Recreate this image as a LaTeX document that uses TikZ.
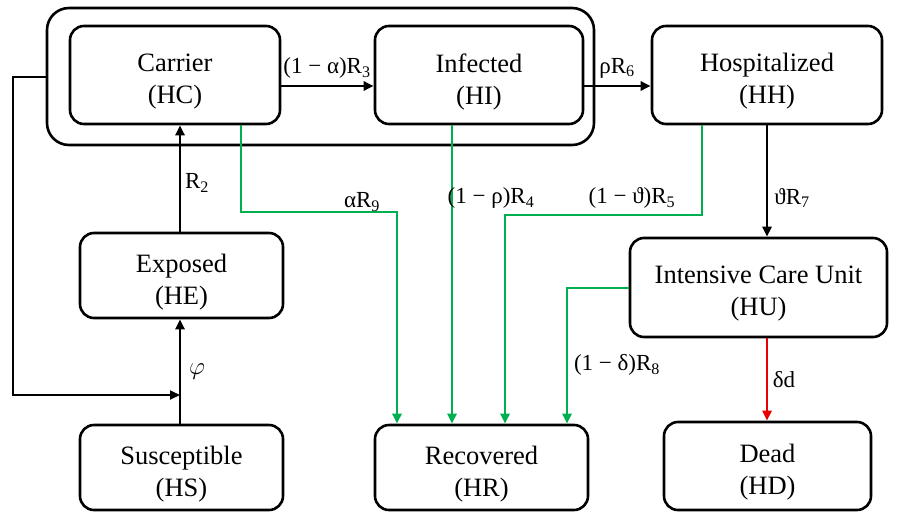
\documentclass[tikz,border=0pt]{standalone}
\usepackage{fontspec}
\setmainfont{Liberation Serif}
\usetikzlibrary{arrows.meta,calc}
\begin{document}
\begin{tikzpicture}[x=1pt,y=-1pt,
  box/.style={draw,line width=2.6pt,rounded corners=14pt,inner sep=0pt},
  txt/.style={align=center,font=\fontsize{26.5}{32}\selectfont,inner sep=0pt,yshift=-6.5pt},
  conn/.style={line width=2.5pt,-{Triangle[length=10pt,width=9pt]}},
  gconn/.style={conn,draw=gr,line width=2.7pt},
  lbl/.style={font=\fontsize{23}{26}\selectfont,inner sep=1pt}]
\definecolor{gr}{RGB}{0,176,80}
\definecolor{rd}{RGB}{230,0,0}
\useasboundingbox (0,0) rectangle (904,522);
% outer group
\node[draw,line width=2.6pt,rounded corners=22pt,minimum width=547pt,minimum height=137pt,inner sep=0pt] (grp) at (320.5,76.5) {};
\node[box,minimum width=210pt,minimum height=98pt,label={[txt]center:{Carrier\\(HC)}}] (HC) at (175,75) {};
\node[box,minimum width=208pt,minimum height=98pt,label={[txt]center:{Infected\\(HI)}}] (HI) at (479,75) {};
\node[box,minimum width=230pt,minimum height=98pt,label={[txt]center:{Hospitalized\\(HH)}}] (HH) at (767,75) {};
\node[box,minimum width=203pt,minimum height=85pt,label={[txt]center:{Exposed\\(HE)}}] (HE) at (181.5,275.5) {};
\node[box,minimum width=203pt,minimum height=85pt,label={[txt]center:{Susceptible\\(HS)}}] (HS) at (181.5,467.5) {};
\node[box,minimum width=213pt,minimum height=85pt,label={[txt]center:{Recovered\\(HR)}}] (HR) at (481.5,467.5) {};
\node[box,minimum width=257pt,minimum height=99pt,label={[txt]center:{Intensive Care Unit\\(HU)}}] (HU) at (758.5,287.5) {};
\node[box,minimum width=207pt,minimum height=88pt,label={[txt]center:{Dead\\(HD)}}] (HD) at (767.5,466) {};
% coordinates
\coordinate (xa) at (180,0);
\coordinate (fb) at (180,395);
\coordinate (g1) at (241,212);
\coordinate (g1r) at (397,0);
\coordinate (g2) at (452,0);
\coordinate (g3) at (702,215);
\coordinate (g3r) at (505,0);
\coordinate (g4) at (567,288);
\coordinate (xb) at (767,0);
% black arrows
\draw[conn] (HC.east |- 0,86) -- (HI.west |- 0,86);
\draw[conn] (HI.east |- 0,86) -- (HH.west |- 0,86);
\draw[conn] (xa |- HE.north) -- (xa |- HC.south);
\draw[conn] (xa |- HS.north) -- (xa |- HE.south);
\draw[line width=2pt,-{Triangle[length=10pt,width=9pt]}] (grp.west) -- ++(-33,0) |- (fb);
\draw[conn] (xb |- HH.south) -- (xb |- HU.north);
\draw[conn,draw=rd,-{Triangle[length=10pt,width=9pt,fill=rd]}] (xb |- HU.south) -- (xb |- HD.north);
% green arrows
\draw[gconn,-{Triangle[length=10pt,width=9pt,fill=gr]}] (g1 |- HC.south) -- (g1) -| (g1r |- HR.north);
\draw[gconn,-{Triangle[length=10pt,width=9pt,fill=gr]}] (g2 |- HI.south) -- (g2 |- HR.north);
\draw[gconn,-{Triangle[length=10pt,width=9pt,fill=gr]}] (g3 |- HH.south) -- (g3) -| (g3r |- HR.north);
\draw[gconn,-{Triangle[length=10pt,width=9pt,fill=gr]}] (HU.west |- g4) -- (g4) -- (g4 |- HR.north);
% labels
\node[lbl] (l1) at (327,68) {(1 − α)R\textsubscript{3}};
\node[lbl] (l2) at (617,68) {ρR\textsubscript{6}};
\node[lbl] (l3) at (197,183) {R\textsubscript{2}};
\node[lbl] (l4) at (197,372) {$\varphi$};
\node[lbl] (l5) at (362,202) {αR\textsubscript{9}};
\node[lbl] (l6) at (491,198) {(1 − ρ)R\textsubscript{4}};
\node[lbl] (l7) at (632,198) {(1 − ϑ)R\textsubscript{5}};
\node[lbl] (l8) at (792,198) {ϑR\textsubscript{7}};
\node[lbl] (l9) at (617,365) {(1 − δ)R\textsubscript{8}};
\node[lbl] (l10) at (784,380) {δd};
\end{tikzpicture}
\end{document}
